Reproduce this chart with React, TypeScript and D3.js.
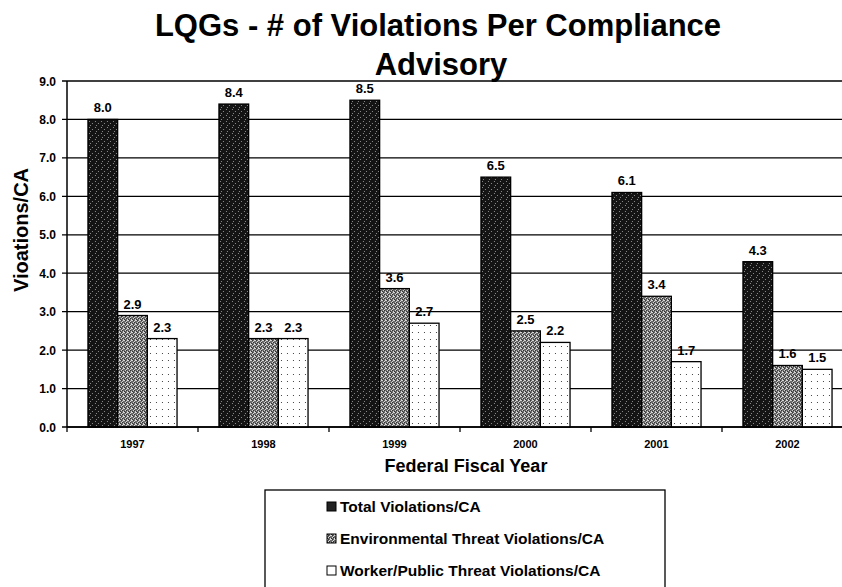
import React, { useEffect, useRef } from "react";
import * as d3 from "d3";

const years = ["1997", "1998", "1999", "2000", "2001", "2002"];
const totalViolations = [8.0, 8.4, 8.5, 6.5, 6.1, 4.3];
const envViolations = [2.9, 2.3, 3.6, 2.5, 3.4, 1.6];
const workerViolations = [2.3, 2.3, 2.7, 2.2, 1.7, 1.5];
const seriesNames = [
  "Total Violations/CA",
  "Environmental Threat Violations/CA",
  "Worker/Public Threat Violations/CA",
];
const yTicks = [0, 1, 2, 3, 4, 5, 6, 7, 8, 9];

const FONT = "'Liberation Sans', Arial, Helvetica, sans-serif";

const App = () => {
  const svgRef = useRef<SVGSVGElement>(null);

  useEffect(() => {
    const width = 842;
    const height = 587;
    const left = 67;
    const top = 81;
    const bottom = 427;
    const step = 131;

    const svg = d3.select(svgRef.current);
    svg.selectAll("*").remove();
    svg.attr("width", width).attr("height", height);

    // texturas de las barras
    const defs = svg.append("defs");
    const dark = defs.append("pattern").attr("id", "pDark")
      .attr("patternUnits", "userSpaceOnUse").attr("width", 6).attr("height", 6);
    dark.append("rect").attr("width", 6).attr("height", 6).attr("fill", "#141414");
    [[1, 1], [4, 3], [2, 5]].forEach(([x, y]) =>
      dark.append("rect").attr("x", x).attr("y", y).attr("width", 1).attr("height", 1).attr("fill", "#8a8a8a"));

    const gray = defs.append("pattern").attr("id", "pGray")
      .attr("patternUnits", "userSpaceOnUse").attr("width", 4).attr("height", 4);
    gray.append("rect").attr("width", 4).attr("height", 4).attr("fill", "#6a6a6a");
    [[0, 0], [2, 1], [1, 2], [3, 3], [3, 0]].forEach(([x, y]) =>
      gray.append("rect").attr("x", x).attr("y", y).attr("width", 1).attr("height", 1).attr("fill", "#d8d8d8"));
    [[1, 0], [0, 3], [2, 2]].forEach(([x, y]) =>
      gray.append("rect").attr("x", x).attr("y", y).attr("width", 1).attr("height", 1).attr("fill", "#333"));

    const dots = defs.append("pattern").attr("id", "pDots")
      .attr("patternUnits", "userSpaceOnUse").attr("width", 6).attr("height", 7);
    dots.append("rect").attr("width", 6).attr("height", 7).attr("fill", "#fff");
    dots.append("rect").attr("x", 2).attr("y", 3).attr("width", 1).attr("height", 1).attr("fill", "#444");

    const fills = ["url(#pDark)", "url(#pGray)", "url(#pDots)"];
    const legendFills = ["#222", "url(#pGray)", "#fff"];

    const x0 = d3.scaleBand<string>()
      .domain(years)
      .range([left, left + step * years.length])
      .paddingInner(0.32)
      .paddingOuter(0.16);
    const x1 = d3.scaleBand<number>()
      .domain([0, 1, 2])
      .range([0, x0.bandwidth()]);
    const y = d3.scaleLinear().domain([0, 9]).range([bottom, top]);

    // título
    const title = svg.append("text")
      .attr("text-anchor", "middle")
      .attr("font-family", FONT)
      .attr("font-weight", "bold")
      .attr("font-size", 31);
    title.append("tspan").attr("x", 438).attr("y", 36).text("LQGs - # of Violations Per Compliance");
    title.append("tspan").attr("x", 441).attr("y", 75).text("Advisory");

    // líneas de cuadrícula
    svg.append("g").selectAll("line")
      .data(yTicks)
      .join("line")
      .attr("x1", left - 5)
      .attr("x2", width)
      .attr("y1", (d) => y(d))
      .attr("y2", (d) => y(d))
      .attr("stroke", "#000")
      .attr("stroke-width", 1.3);

    svg.append("g").selectAll("text")
      .data(yTicks)
      .join("text")
      .attr("x", 56)
      .attr("y", (d) => y(d) + 4.5)
      .attr("text-anchor", "end")
      .attr("font-family", FONT)
      .attr("font-weight", "bold")
      .attr("font-size", 12)
      .text((d) => d3.format(".1f")(d));

    // barras
    const rows = years.map((yr, i) => ({
      year: yr,
      values: [totalViolations[i], envViolations[i], workerViolations[i]],
    }));

    const groups = svg.append("g").selectAll("g")
      .data(rows)
      .join("g")
      .attr("transform", (d) => `translate(${x0(d.year)},0)`);

    groups.selectAll("rect")
      .data((d) => d.values.map((v, k) => ({ v, k })))
      .join("rect")
      .attr("x", (d) => x1(d.k)!)
      .attr("y", (d) => y(d.v))
      .attr("width", x1.bandwidth())
      .attr("height", (d) => bottom - y(d.v))
      .attr("fill", (d) => fills[d.k])
      .attr("stroke", "#000")
      .attr("stroke-width", 1.3);

    groups.selectAll("text")
      .data((d) => d.values.map((v, k) => ({ v, k })))
      .join("text")
      .attr("x", (d) => x1(d.k)! + x1.bandwidth() / 2)
      .attr("y", (d) => y(d.v) - 7)
      .attr("text-anchor", "middle")
      .attr("font-family", FONT)
      .attr("font-weight", "bold")
      .attr("font-size", 13)
      .text((d) => d3.format(".1f")(d.v));

    // ejes
    svg.append("line")
      .attr("x1", left).attr("x2", left)
      .attr("y1", top).attr("y2", bottom)
      .attr("stroke", "#000").attr("stroke-width", 1.5);
    svg.append("line")
      .attr("x1", left).attr("x2", width)
      .attr("y1", bottom).attr("y2", bottom)
      .attr("stroke", "#000").attr("stroke-width", 1.5);

    svg.append("g").selectAll("line")
      .data(d3.range(years.length + 1))
      .join("line")
      .attr("x1", (i) => left + i * x0.step())
      .attr("x2", (i) => left + i * x0.step())
      .attr("y1", bottom)
      .attr("y2", bottom + 5)
      .attr("stroke", "#000")
      .attr("stroke-width", 1.3);

    svg.append("g").selectAll("text")
      .data(years)
      .join("text")
      .attr("x", (d) => x0(d)! + x0.bandwidth() / 2)
      .attr("y", 448)
      .attr("text-anchor", "middle")
      .attr("font-family", FONT)
      .attr("font-weight", "bold")
      .attr("font-size", 11)
      .text((d) => d);

    svg.append("text")
      .attr("x", 466)
      .attr("y", 472)
      .attr("text-anchor", "middle")
      .attr("font-family", FONT)
      .attr("font-weight", "bold")
      .attr("font-size", 18)
      .text("Federal Fiscal Year");

    svg.append("text")
      .attr("transform", "translate(28,230) rotate(-90)")
      .attr("text-anchor", "middle")
      .attr("font-family", FONT)
      .attr("font-weight", "bold")
      .attr("font-size", 20)
      .text("Vioations/CA");

    // leyenda
    svg.append("rect")
      .attr("x", 265).attr("y", 490)
      .attr("width", 400).attr("height", 110)
      .attr("fill", "#fff")
      .attr("stroke", "#000").attr("stroke-width", 1.3);

    const legend = svg.append("g").selectAll("g")
      .data(seriesNames)
      .join("g")
      .attr("transform", (_, i) => `translate(327,${507 + i * 32})`);
    legend.append("rect")
      .attr("x", 0).attr("y", -5)
      .attr("width", 9).attr("height", 9)
      .attr("fill", (_, i) => legendFills[i])
      .attr("stroke", "#000").attr("stroke-width", 1);
    legend.append("text")
      .attr("x", 13)
      .attr("y", 5)
      .attr("font-family", FONT)
      .attr("font-weight", "bold")
      .attr("font-size", 15.5)
      .text((d) => d);
  }, []);

  return (
    <svg
      ref={svgRef}
      style={{ position: "absolute", left: 0, top: 0, display: "block", background: "#fff" }}
    />
  );
};

export default App;
